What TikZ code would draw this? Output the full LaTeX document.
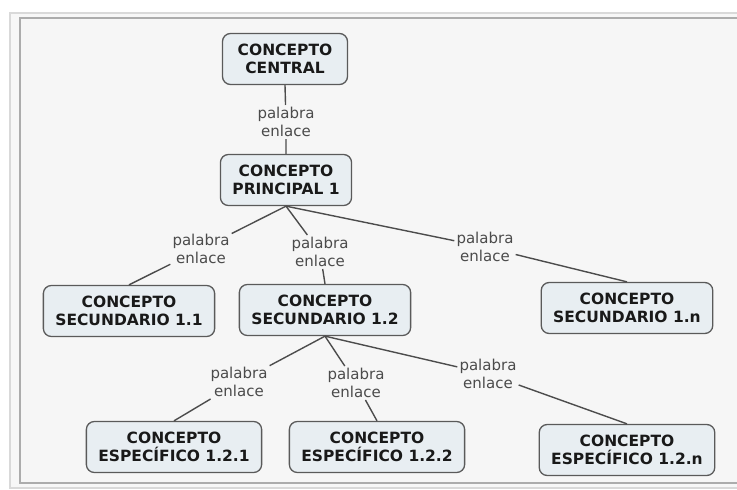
\documentclass[tikz,border=0pt]{standalone}
\usepackage{fontspec}
\setmainfont{DejaVu Sans}
\usepackage{tikz}
\usetikzlibrary{positioning,calc}
\definecolor{cmapfill} {RGB}{232,238,242}
\definecolor{cmapline} {RGB}{90,90,90}
\definecolor{cmaptext} {RGB}{75,75,75}
\definecolor{cmappanel}{RGB}{246,246,246}
\begin{document}
\begin{tikzpicture}[x=1pt, y=-1pt,
  concepto/.style={rectangle, rounded corners=8pt,
              minimum height=51pt, inner xsep=12pt,
              align=center, text=black!90,
              font=\bfseries\fontsize{15.5}{18}\selectfont,
              draw=cmapline, line width=1.3pt, fill=cmapfill},
  enlace/.style={align=center, inner sep=2pt, text=cmaptext,
              font=\fontsize{15}{18}\selectfont},
  lnk/.style={draw=cmapline!85!black, line width=1.4pt}
]
  \useasboundingbox (0,0) rectangle (737,490);
  % panel
  \fill[white] (0,0) rectangle (737,490);
  \draw[gray!30, fill=gray!6, line width=1.5pt] (10,13) rectangle (760,488);
  \draw[gray!65, fill=cmappanel, line width=1.3pt] (20,18) rectangle (760,483);

  % concepts
  \node[concepto, minimum width=125pt] (C)   at (285,59)  {CONCEPTO\\CENTRAL};
  \node[concepto] (P1)  at (286,180) {CONCEPTO\\PRINCIPAL 1};
  \node[concepto] (S11) at (129,311) {CONCEPTO\\SECUNDARIO 1.1};
  \node[concepto] (S12) at (325,310) {CONCEPTO\\SECUNDARIO 1.2};
  \node[concepto] (S1n) at (627,308) {CONCEPTO\\SECUNDARIO 1.n};
  \node[concepto] (E1)  at (174,447) {CONCEPTO\\ESPECÍFICO 1.2.1};
  \node[concepto] (E2)  at (377,447) {CONCEPTO\\ESPECÍFICO 1.2.2};
  \node[concepto] (En)  at (627,450) {CONCEPTO\\ESPECÍFICO 1.2.n};

  % linking words
  \node[enlace] (l0) at (286,122) {palabra\\enlace};
  \node[enlace] (la) at (201,249) {palabra\\enlace};
  \node[enlace] (lb) at (320,252) {palabra\\enlace};
  \node[enlace] (lc) at (485,247) {palabra\\enlace};
  \node[enlace] (ld) at (239,382) {palabra\\enlace};
  \node[enlace] (le) at (356,383) {palabra\\enlace};
  \node[enlace] (lf) at (488,374) {palabra\\enlace};

  \foreach \from/\via/\to in {C/l0/P1, P1/la/S11, P1/lb/S12, P1/lc/S1n,
                              S12/ld/E1, S12/le/E2, S12/lf/En}
    \draw[lnk] (\from.south) -- (\via) -- (\to.north);
\end{tikzpicture}
\end{document}
